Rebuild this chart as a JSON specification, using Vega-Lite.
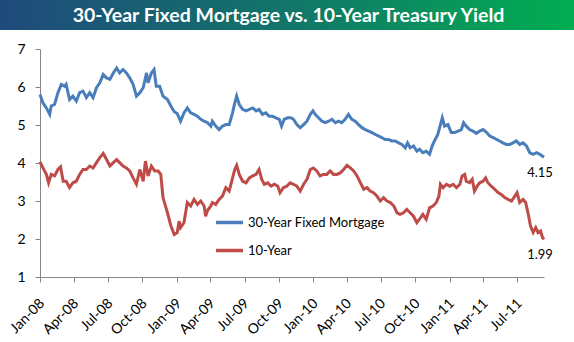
{
  "$schema": "https://vega.github.io/schema/vega-lite/v6.json",
  "padding": 0,
  "background": "white",
  "bounds": "flush",
  "center": true,
  "spacing": 19,
  "datasets": {
    "mort": [
      {"d":"2008-01-01","v":5.8},{"d":"2008-01-09","v":5.58},{"d":"2008-01-18","v":5.45},{"d":"2008-01-27","v":5.28},{"d":"2008-01-31","v":5.5},
      {"d":"2008-02-09","v":5.54},{"d":"2008-02-18","v":5.85},{"d":"2008-02-27","v":6.07},{"d":"2008-03-07","v":6.02},{"d":"2008-03-11","v":6.07},
      {"d":"2008-03-20","v":5.67},{"d":"2008-03-29","v":5.76},{"d":"2008-04-07","v":5.63},{"d":"2008-04-16","v":5.85},{"d":"2008-04-25","v":5.89},
      {"d":"2008-05-04","v":5.72},{"d":"2008-05-13","v":5.85},{"d":"2008-05-22","v":5.72},{"d":"2008-05-31","v":5.98},{"d":"2008-06-09","v":6.11},
      {"d":"2008-06-18","v":6.33},{"d":"2008-06-27","v":6.24},{"d":"2008-07-06","v":6.2},{"d":"2008-07-15","v":6.37},{"d":"2008-07-24","v":6.5},
      {"d":"2008-08-01","v":6.37},{"d":"2008-08-10","v":6.46},{"d":"2008-08-19","v":6.37},{"d":"2008-08-28","v":6.24},{"d":"2008-09-06","v":6.07},
      {"d":"2008-09-15","v":5.76},{"d":"2008-09-24","v":5.85},{"d":"2008-10-03","v":5.98},{"d":"2008-10-12","v":6.37},{"d":"2008-10-16","v":6.11},
      {"d":"2008-10-25","v":6.37},{"d":"2008-11-01","v":6.46},{"d":"2008-11-07","v":6.02},{"d":"2008-11-16","v":6.02},{"d":"2008-11-25","v":5.76},
      {"d":"2008-12-07","v":5.67},{"d":"2008-12-16","v":5.5},{"d":"2008-12-25","v":5.35},{"d":"2009-01-02","v":5.3},{"d":"2009-01-11","v":5.1},
      {"d":"2009-01-20","v":5.32},{"d":"2009-01-29","v":5.45},{"d":"2009-02-07","v":5.32},{"d":"2009-02-16","v":5.28},{"d":"2009-02-25","v":5.23},
      {"d":"2009-03-06","v":5.15},{"d":"2009-03-15","v":5.1},{"d":"2009-03-24","v":5.06},{"d":"2009-04-02","v":4.97},{"d":"2009-04-06","v":5.1},
      {"d":"2009-04-15","v":4.97},{"d":"2009-04-24","v":4.88},{"d":"2009-05-03","v":4.97},{"d":"2009-05-12","v":5.01},{"d":"2009-05-21","v":5.01},
      {"d":"2009-05-30","v":5.32},{"d":"2009-06-05","v":5.58},{"d":"2009-06-10","v":5.76},{"d":"2009-06-17","v":5.54},{"d":"2009-06-26","v":5.41},
      {"d":"2009-07-05","v":5.37},{"d":"2009-07-14","v":5.41},{"d":"2009-07-23","v":5.45},{"d":"2009-08-01","v":5.37},{"d":"2009-08-09","v":5.41},
      {"d":"2009-08-18","v":5.28},{"d":"2009-08-27","v":5.32},{"d":"2009-09-05","v":5.23},{"d":"2009-09-14","v":5.23},{"d":"2009-09-23","v":5.19},
      {"d":"2009-10-02","v":5.15},{"d":"2009-10-08","v":4.97},{"d":"2009-10-15","v":5.15},{"d":"2009-10-24","v":5.19},{"d":"2009-11-02","v":5.19},
      {"d":"2009-11-09","v":5.15},{"d":"2009-11-18","v":5.01},{"d":"2009-11-27","v":4.93},{"d":"2009-12-06","v":5.01},{"d":"2009-12-15","v":5.1},
      {"d":"2009-12-24","v":5.28},{"d":"2009-12-31","v":5.37},{"d":"2010-01-06","v":5.28},{"d":"2010-01-15","v":5.19},{"d":"2010-01-24","v":5.1},
      {"d":"2010-02-02","v":5.06},{"d":"2010-02-11","v":5.1},{"d":"2010-02-20","v":5.15},{"d":"2010-03-01","v":5.06},{"d":"2010-03-09","v":5.1},
      {"d":"2010-03-18","v":5.06},{"d":"2010-03-27","v":5.15},{"d":"2010-04-05","v":5.28},{"d":"2010-04-14","v":5.15},{"d":"2010-04-23","v":5.1},
      {"d":"2010-05-02","v":5.01},{"d":"2010-05-11","v":4.93},{"d":"2010-05-20","v":4.88},{"d":"2010-05-29","v":4.84},{"d":"2010-06-07","v":4.8},
      {"d":"2010-06-16","v":4.75},{"d":"2010-06-25","v":4.71},{"d":"2010-07-03","v":4.67},{"d":"2010-07-12","v":4.62},{"d":"2010-07-21","v":4.62},
      {"d":"2010-07-30","v":4.58},{"d":"2010-08-08","v":4.58},{"d":"2010-08-17","v":4.53},{"d":"2010-08-26","v":4.49},{"d":"2010-09-04","v":4.4},
      {"d":"2010-09-10","v":4.53},{"d":"2010-09-17","v":4.4},{"d":"2010-09-26","v":4.45},{"d":"2010-10-05","v":4.31},{"d":"2010-10-12","v":4.36},
      {"d":"2010-10-21","v":4.27},{"d":"2010-10-30","v":4.31},{"d":"2010-11-08","v":4.23},{"d":"2010-11-15","v":4.45},{"d":"2010-11-21","v":4.58},
      {"d":"2010-11-30","v":4.75},{"d":"2010-12-07","v":5.01},{"d":"2010-12-12","v":5.19},{"d":"2010-12-18","v":4.97},{"d":"2010-12-27","v":5.01},
      {"d":"2011-01-05","v":4.8},{"d":"2011-01-14","v":4.8},{"d":"2011-01-23","v":4.84},{"d":"2011-02-01","v":4.88},{"d":"2011-02-07","v":5.06},
      {"d":"2011-02-14","v":4.97},{"d":"2011-02-23","v":4.88},{"d":"2011-03-04","v":4.84},{"d":"2011-03-13","v":4.78},{"d":"2011-03-22","v":4.84},
      {"d":"2011-03-31","v":4.88},{"d":"2011-04-09","v":4.81},{"d":"2011-04-18","v":4.71},{"d":"2011-04-27","v":4.67},{"d":"2011-05-06","v":4.62},
      {"d":"2011-05-14","v":4.58},{"d":"2011-05-23","v":4.53},{"d":"2011-06-01","v":4.49},{"d":"2011-06-10","v":4.49},{"d":"2011-06-19","v":4.53},
      {"d":"2011-06-28","v":4.58},{"d":"2011-07-07","v":4.49},{"d":"2011-07-16","v":4.53},{"d":"2011-07-25","v":4.45},{"d":"2011-08-03","v":4.27},
      {"d":"2011-08-12","v":4.23},{"d":"2011-08-21","v":4.27},{"d":"2011-08-30","v":4.23},{"d":"2011-09-10","v":4.15}
    ],
    "tsy": [
      {"d":"2008-01-01","v":4.03},{"d":"2008-01-09","v":3.87},{"d":"2008-01-18","v":3.7},{"d":"2008-01-24","v":3.48},{"d":"2008-01-31","v":3.7},
      {"d":"2008-02-09","v":3.66},{"d":"2008-02-18","v":3.83},{"d":"2008-02-25","v":3.9},{"d":"2008-03-03","v":3.52},{"d":"2008-03-11","v":3.52},
      {"d":"2008-03-20","v":3.35},{"d":"2008-03-29","v":3.48},{"d":"2008-04-07","v":3.52},{"d":"2008-04-16","v":3.7},{"d":"2008-04-25","v":3.83},
      {"d":"2008-05-04","v":3.83},{"d":"2008-05-13","v":3.92},{"d":"2008-05-22","v":3.87},{"d":"2008-05-31","v":4.01},{"d":"2008-06-09","v":4.14},
      {"d":"2008-06-18","v":4.25},{"d":"2008-06-27","v":4.09},{"d":"2008-07-06","v":3.92},{"d":"2008-07-15","v":4.01},{"d":"2008-07-24","v":4.09},
      {"d":"2008-08-01","v":4.01},{"d":"2008-08-10","v":3.92},{"d":"2008-08-19","v":3.87},{"d":"2008-08-28","v":3.79},{"d":"2008-09-06","v":3.61},
      {"d":"2008-09-15","v":3.44},{"d":"2008-09-24","v":3.83},{"d":"2008-10-03","v":3.52},{"d":"2008-10-09","v":4.05},{"d":"2008-10-16","v":3.66},
      {"d":"2008-10-25","v":3.92},{"d":"2008-11-03","v":3.79},{"d":"2008-11-12","v":3.79},{"d":"2008-11-19","v":3.7},{"d":"2008-11-25","v":3.09},
      {"d":"2008-12-07","v":2.69},{"d":"2008-12-16","v":2.35},{"d":"2008-12-25","v":2.12},{"d":"2009-01-02","v":2.17},{"d":"2009-01-07","v":2.47},
      {"d":"2009-01-11","v":2.3},{"d":"2009-01-20","v":2.43},{"d":"2009-01-29","v":2.96},{"d":"2009-02-07","v":2.87},{"d":"2009-02-16","v":3.04},
      {"d":"2009-02-25","v":2.91},{"d":"2009-03-06","v":3.0},{"d":"2009-03-15","v":2.87},{"d":"2009-03-19","v":2.6},{"d":"2009-03-24","v":2.75},
      {"d":"2009-04-02","v":2.87},{"d":"2009-04-06","v":2.96},{"d":"2009-04-15","v":2.91},{"d":"2009-04-24","v":3.04},{"d":"2009-05-03","v":3.13},
      {"d":"2009-05-12","v":3.35},{"d":"2009-05-21","v":3.26},{"d":"2009-05-30","v":3.61},{"d":"2009-06-05","v":3.83},{"d":"2009-06-10","v":3.94},
      {"d":"2009-06-17","v":3.7},{"d":"2009-06-26","v":3.52},{"d":"2009-07-05","v":3.48},{"d":"2009-07-14","v":3.61},{"d":"2009-07-23","v":3.66},
      {"d":"2009-08-01","v":3.7},{"d":"2009-08-09","v":3.83},{"d":"2009-08-16","v":3.57},{"d":"2009-08-23","v":3.44},{"d":"2009-09-01","v":3.48},
      {"d":"2009-09-10","v":3.39},{"d":"2009-09-19","v":3.44},{"d":"2009-09-28","v":3.39},{"d":"2009-10-04","v":3.22},{"d":"2009-10-13","v":3.35},
      {"d":"2009-10-22","v":3.39},{"d":"2009-10-31","v":3.48},{"d":"2009-11-09","v":3.44},{"d":"2009-11-18","v":3.39},{"d":"2009-11-27","v":3.26},
      {"d":"2009-12-06","v":3.44},{"d":"2009-12-15","v":3.57},{"d":"2009-12-24","v":3.83},{"d":"2010-01-01","v":3.87},{"d":"2010-01-10","v":3.79},
      {"d":"2010-01-19","v":3.66},{"d":"2010-01-28","v":3.7},{"d":"2010-02-06","v":3.7},{"d":"2010-02-15","v":3.79},{"d":"2010-02-24","v":3.7},
      {"d":"2010-03-05","v":3.7},{"d":"2010-03-14","v":3.74},{"d":"2010-03-23","v":3.83},{"d":"2010-04-01","v":3.94},{"d":"2010-04-10","v":3.87},
      {"d":"2010-04-19","v":3.79},{"d":"2010-04-28","v":3.66},{"d":"2010-05-07","v":3.48},{"d":"2010-05-16","v":3.31},{"d":"2010-05-25","v":3.35},
      {"d":"2010-06-02","v":3.26},{"d":"2010-06-11","v":3.22},{"d":"2010-06-20","v":3.13},{"d":"2010-06-29","v":3.0},{"d":"2010-07-08","v":3.09},
      {"d":"2010-07-17","v":3.0},{"d":"2010-07-26","v":2.96},{"d":"2010-08-04","v":2.87},{"d":"2010-08-13","v":2.69},{"d":"2010-08-21","v":2.65},
      {"d":"2010-08-30","v":2.69},{"d":"2010-09-08","v":2.78},{"d":"2010-09-17","v":2.69},{"d":"2010-09-26","v":2.6},{"d":"2010-10-05","v":2.43},
      {"d":"2010-10-12","v":2.52},{"d":"2010-10-21","v":2.65},{"d":"2010-10-30","v":2.52},{"d":"2010-11-08","v":2.82},{"d":"2010-11-17","v":2.87},
      {"d":"2010-11-26","v":2.96},{"d":"2010-12-03","v":3.13},{"d":"2010-12-07","v":3.44},{"d":"2010-12-14","v":3.35},{"d":"2010-12-23","v":3.44},
      {"d":"2011-01-01","v":3.39},{"d":"2011-01-10","v":3.44},{"d":"2011-01-19","v":3.35},{"d":"2011-01-28","v":3.44},{"d":"2011-02-03","v":3.66},
      {"d":"2011-02-10","v":3.7},{"d":"2011-02-14","v":3.52},{"d":"2011-02-23","v":3.48},{"d":"2011-03-02","v":3.57},{"d":"2011-03-08","v":3.26},
      {"d":"2011-03-15","v":3.39},{"d":"2011-03-22","v":3.48},{"d":"2011-03-31","v":3.52},{"d":"2011-04-07","v":3.61},{"d":"2011-04-13","v":3.48},
      {"d":"2011-04-22","v":3.39},{"d":"2011-05-01","v":3.31},{"d":"2011-05-10","v":3.22},{"d":"2011-05-19","v":3.17},{"d":"2011-05-28","v":3.09},
      {"d":"2011-06-06","v":3.04},{"d":"2011-06-15","v":3.0},{"d":"2011-06-24","v":3.13},{"d":"2011-06-30","v":3.22},{"d":"2011-07-07","v":2.96},
      {"d":"2011-07-16","v":3.04},{"d":"2011-07-23","v":2.96},{"d":"2011-07-30","v":2.65},{"d":"2011-08-05","v":2.34},{"d":"2011-08-12","v":2.17},
      {"d":"2011-08-19","v":2.3},{"d":"2011-08-25","v":2.17},{"d":"2011-09-01","v":2.21},{"d":"2011-09-06","v":2.04},{"d":"2011-09-10","v":1.99}
    ],
    "ends": [
      {"d":"2011-09-10","v":4.15},{"d":"2011-09-10","v":1.99}
    ]
  },
  "vconcat": [
    {
      "width": 584,
      "height": 30,
      "data": {"values": [{"t": "30-Year Fixed Mortgage vs. 10-Year Treasury Yield"}]},
      "layer": [
        {
          "mark": {"type": "rect", "color": {"gradient": "linear", "stops": [{"offset": 0, "color": "#1f4a7c"}, {"offset": 0.5, "color": "#117669"}, {"offset": 1, "color": "#00b050"}]}},
          "encoding": {}
        },
        {
          "mark": {"type": "text", "color": "white", "font": "Lato", "fontWeight": "bold", "fontSize": 19.5, "dx": -3.5, "dy": 1},
          "encoding": {"text": {"field": "t"}}
        }
      ]
    },
    {
      "width": 504,
      "height": 228,
      "encoding": {
        "x": {
          "field": "d", "type": "temporal",
          "scale": {"type": "utc", "nice": false, "domain": [{"year": 2008, "month": 1, "date": 1, "utc": true}, {"year": 2011, "month": 9, "date": 10, "utc": true}]},
          "axis": {
            "title": null, "grid": false,
            "labelExpr": "utcFormat(datum.value, '%b-%y')",
            "values": [
              {"year": 2008, "month": 1, "date": 1, "utc": true}, {"year": 2008, "month": 4, "date": 1, "utc": true},
              {"year": 2008, "month": 7, "date": 1, "utc": true}, {"year": 2008, "month": 10, "date": 1, "utc": true},
              {"year": 2009, "month": 1, "date": 1, "utc": true}, {"year": 2009, "month": 4, "date": 1, "utc": true},
              {"year": 2009, "month": 7, "date": 1, "utc": true}, {"year": 2009, "month": 10, "date": 1, "utc": true},
              {"year": 2010, "month": 1, "date": 1, "utc": true}, {"year": 2010, "month": 4, "date": 1, "utc": true},
              {"year": 2010, "month": 7, "date": 1, "utc": true}, {"year": 2010, "month": 10, "date": 1, "utc": true},
              {"year": 2011, "month": 1, "date": 1, "utc": true}, {"year": 2011, "month": 4, "date": 1, "utc": true},
              {"year": 2011, "month": 7, "date": 1, "utc": true}
            ],
            "labelAngle": -45, "labelAlign": "right", "labelBaseline": "middle",
            "tickSize": 5, "labelPadding": 19, "labelOffset": 2, "labelFontSize": 14, "labelOverlap": false
          }
        },
        "y": {
          "field": "v", "type": "quantitative",
          "scale": {"domain": [1, 7], "nice": false, "zero": false},
          "axis": {"title": null, "grid": false, "values": [1, 2, 3, 4, 5, 6, 7], "tickSize": 5, "labelPadding": 10, "labelFontSize": 14}
        }
      },
      "layer": [
        {
          "data": {"name": "mort"},
          "mark": {"type": "line", "strokeWidth": 3},
          "encoding": {
            "color": {
              "datum": "30-Year Fixed Mortgage", "type": "nominal",
              "scale": {"domain": ["30-Year Fixed Mortgage", "10-Year"], "range": ["#4a7ebb", "#be4b48"]},
              "legend": {
                "title": null, "orient": "none", "legendX": 214, "legendY": 207, "direction": "vertical",
                "symbolType": "stroke", "symbolSize": 729, "symbolStrokeWidth": 3.5,
                "labelFontSize": 13, "labelOffset": 3, "rowPadding": 5, "labelColor": "#000", "labelFont": "Lato"
              }
            }
          }
        },
        {
          "data": {"name": "tsy"},
          "mark": {"type": "line", "strokeWidth": 3},
          "encoding": {"color": {"datum": "10-Year", "type": "nominal"}}
        },
        {
          "data": {"name": "ends"},
          "mark": {"type": "text", "dx": -4, "dy": 16, "fontSize": 13, "font": "Lato", "color": "#000"},
          "encoding": {"text": {"field": "v", "type": "quantitative", "format": ".2f"}}
        }
      ]
    }
  ],
  "config": {
    "view": {"stroke": null},
    "font": "Lato",
    "axis": {"domainColor": "#868686", "tickColor": "#868686", "labelColor": "#000", "labelFont": "Lato"}
  }
}
